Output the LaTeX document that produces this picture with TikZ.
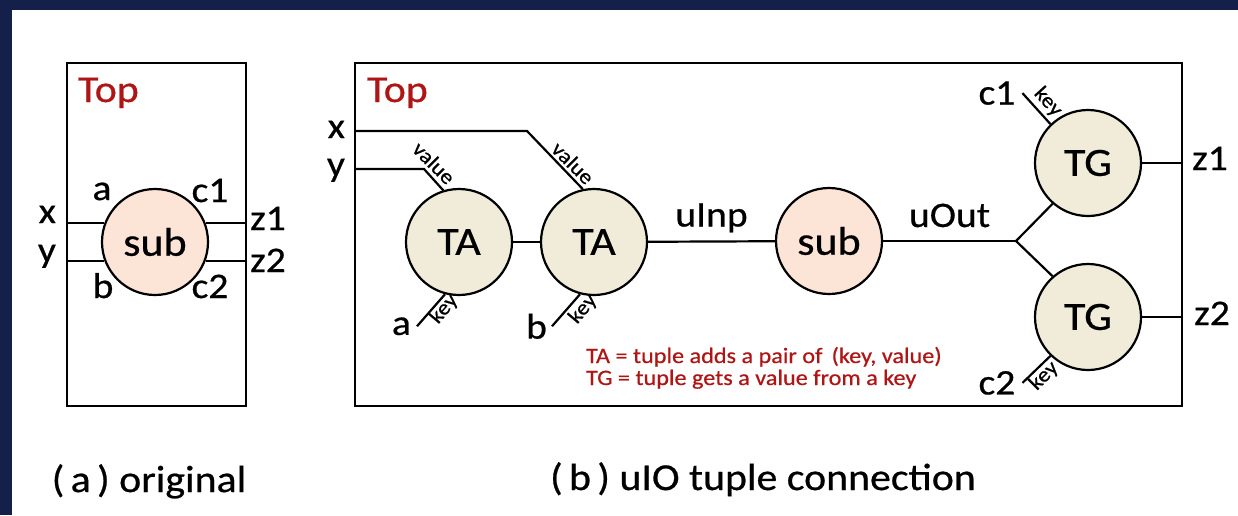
\documentclass[tikz,border=0pt]{standalone}
\usepackage{fontspec}
\setmainfont{Carlito}[FakeStretch=1.1,FakeBold=0.6]

\definecolor{navyband}{HTML}{14204A}
\definecolor{toptext}{HTML}{B01515}
\definecolor{subfill}{HTML}{FCE4D6}
\definecolor{tupfill}{HTML}{F1ECD9}

\begin{document}
\begin{tikzpicture}[x=1pt,y=-1pt,line width=2.2pt]
	\tikzset{
		topbox/.style={draw=black,line width=2.4pt},
		blk/.style={circle,draw,line width=2.2pt,minimum size=106pt,inner sep=0pt,font=\fontsize{40}{48}\selectfont},
		subblk/.style={blk,fill=subfill},
		tupblk/.style={blk,fill=tupfill},
		lbl/.style={inner sep=0pt,font=\fontsize{36}{42}\selectfont},
		tag/.style={inner sep=0pt,font=\fontsize{21}{24}\selectfont},
		toptxt/.style={inner sep=0pt,text=toptext,font=\fontsize{38}{46}\selectfont},
		legendtxt/.style={inner sep=0pt,text=toptext,font=\fontsize{22}{26}\selectfont},
		captxt/.style={inner sep=0pt,font=\fontsize{38}{46}\selectfont}
	}

	\useasboundingbox (0,0) rectangle (1238,515);
	\fill[white] (0,0) rectangle (1238,515);
	\fill[navyband] (0,0) rectangle (1238,10);
	\fill[navyband] (0,0) rectangle (12,515);

	\begin{scope}
	\draw[topbox] (67,63) rectangle (246,406);
	\node[toptxt,anchor=base west] (topA) at (77,102) {Top};
	\node[subblk] (subA) at (155,242) {sub};

	\coordinate (xA) at (67,223);
	\coordinate (yA) at (67,261);
	\coordinate (z1A) at (246,223);
	\coordinate (z2A) at (246,261);
	\draw (xA) -- (xA -| subA.159);
	\draw (yA) -- (yA -| subA.201);
	\draw (z1A -| subA.21) -- (z1A);
	\draw (z2A -| subA.-21) -- (z2A);

	\node[lbl,anchor=base east] (xlA) at (57,223) {x};
	\node[lbl,anchor=base east] (ylA) at (57,262) {y};
	\node[lbl,anchor=base] (alA) at (102,200) {a};
	\node[lbl,anchor=base] (blA) at (103,298) {b};
	\node[lbl,anchor=base] (c1lA) at (210,202) {c1};
	\node[lbl,anchor=base] (c2lA) at (210,298) {c2};
	\node[lbl,anchor=base west] (z1lA) at (249,230) {z1};
	\node[lbl,anchor=base west] (z2lA) at (249,272) {z2};
	\end{scope}

	\begin{scope}
	\draw[topbox] (355,63) rectangle (1182,406);
	\node[toptxt,anchor=base west] (topB) at (366,102) {Top};
	\node[tupblk] (ta1) at (459,242) {TA};
	\node[tupblk] (ta2) at (594,242) {TA};
	\node[subblk] (subB) at (829,241) {sub};
	\node[tupblk] (tg1) at (1088,163) {TG};
	\node[tupblk] (tg2) at (1088,317) {TG};

	\coordinate (xB) at (355,131);
	\coordinate (xbend) at (527,131);
	\coordinate (yB) at (355,169);
	\coordinate (ybend) at (424,169);
	\coordinate (fork) at (1016,241);
	\coordinate (z1B) at (1182,163);
	\coordinate (z2B) at (1182,317);

	\draw (xB) -- (xbend) -- (ta2.102);
	\draw (yB) -- (ybend) -- (ta1.107);
	\draw (ta1) -- (ta2);
	\draw (ta2) -- node[lbl,midway,anchor=base,yshift=15pt] (uinp) {uInp} (subB);
	\draw (subB) -- node[lbl,midway,anchor=base,yshift=14pt] (uout) {uOut} (fork);
	\draw (fork) -- (tg1.-131);
	\draw (fork) -- (tg2.131);
	\draw (tg1) -- (z1B);
	\draw (tg2) -- (z2B);

	\draw (ta1.-105) -- ++(-28,32) coordinate (aB);
	\draw (ta2.-105) -- ++(-28,32) coordinate (bB);
	\draw (tg1.134) -- ++(-28,-31) coordinate (c1B);
	\draw (tg2.-134) -- ++(-28,27) coordinate (c2B);

	\node[lbl,anchor=base east] (xlB) at (346,138) {x};
	\node[lbl,anchor=base east] (ylB) at (346,176) {y};
	\node[lbl,anchor=east,inner sep=5pt] (alB) at (aB) {a};
	\node[lbl,anchor=east,inner sep=4pt] (blB) at (bB) {b};
	\node[lbl,anchor=east,inner sep=6pt] (c1lB) at (c1B) {c1};
	\node[lbl,anchor=east,inner sep=6pt] (c2lB) at (c2B) {c2};
	\node[lbl,anchor=base west] (z1lB) at (1191,170) {z1};
	\node[lbl,anchor=base west] (z2lB) at (1193,325) {z2};

	\node[tag,rotate=-45] (valA) at (434,163) {value};
	\node[tag,rotate=-45] (valB) at (573,163) {value};
	\node[tag,rotate=50] (keyA) at (444,309) {key};
	\node[tag,rotate=50] (keyB) at (583,309) {key};
	\node[tag,rotate=-48] (keyC) at (1048,102) {key};
	\node[tag,rotate=45] (keyD) at (1044,376) {key};

	\node[legendtxt,anchor=base west] (noteTA) at (585,363) {TA = tuple adds a pair of \,(key, value)};
	\node[legendtxt,anchor=base west] (noteTG) at (585,385) {TG = tuple gets a value from a key};
	\end{scope}

	\node[captxt,anchor=base] (capA) at (149,492) {(\,a\,)\ original};
	\node[captxt,anchor=base] (capB) at (763,490) {(\,b\,)\ uIO tuple connection};
\end{tikzpicture}
\end{document}
